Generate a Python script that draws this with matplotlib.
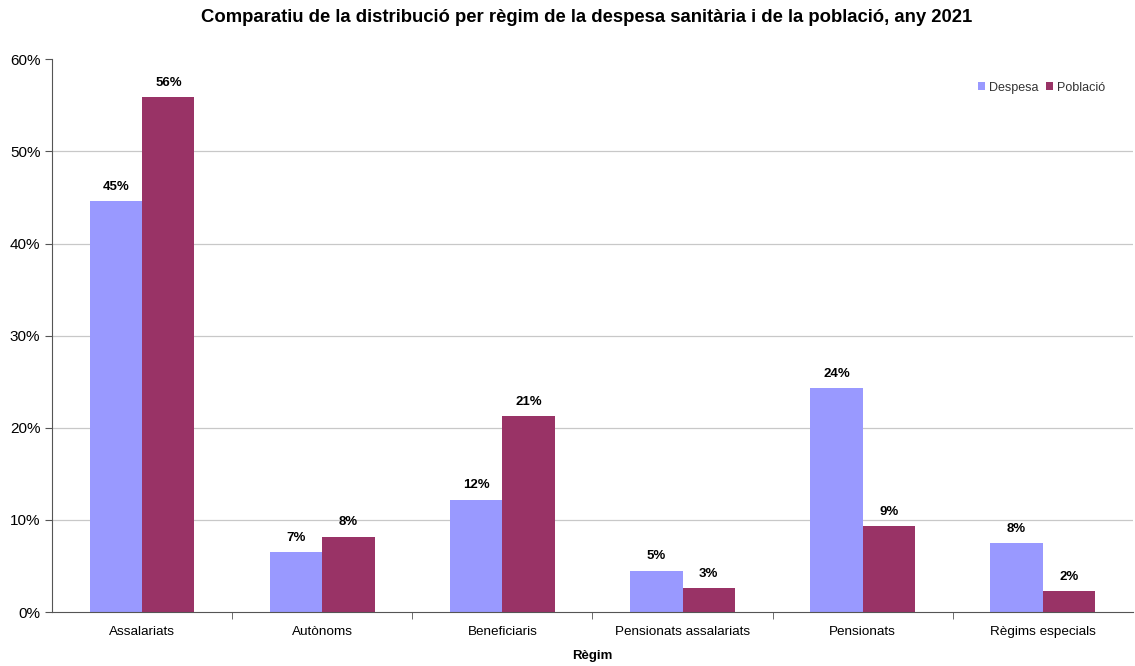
import matplotlib.pyplot as plt
import numpy as np

plt.rcParams['font.family'] = ['Liberation Sans', 'DejaVu Sans']

categories = ['Assalariats', 'Autònoms', 'Beneficiaris', 'Pensionats assalariats',
              'Pensionats', 'Règims especials']
despesa = [44.6, 6.5, 12.2, 4.5, 24.3, 7.5]
poblacio = [55.9, 8.2, 21.3, 2.6, 9.3, 2.3]
despesa_labels = ['45%', '7%', '12%', '5%', '24%', '8%']
poblacio_labels = ['56%', '8%', '21%', '3%', '9%', '2%']

fig = plt.figure(figsize=(11.35, 6.66), dpi=100)
ax = fig.add_axes([0.046, 0.081, 0.952, 0.83])

x = np.arange(len(categories))
w = 0.29
b1 = ax.bar(x - w/2, despesa, w, color='#9999FF', label='Despesa')
b2 = ax.bar(x + w/2, poblacio, w, color='#993366', label='Població')

for bars, labs in [(b1, despesa_labels), (b2, poblacio_labels)]:
    for b, t in zip(bars, labs):
        ax.text(b.get_x() + b.get_width()/2, b.get_height() + 0.9, t,
                ha='center', va='bottom', fontsize=9.5, fontweight='bold')

ax.set_xlim(-0.5, len(categories) - 0.5)
ax.set_ylim(0, 60)
ax.set_yticks(range(0, 61, 10))
ax.set_yticklabels([f'{v}%' for v in range(0, 61, 10)], fontsize=11)
for v in range(10, 60, 10):
    ax.axhline(v, color='#c8c8c8', linewidth=0.9, zorder=0)

ax.set_xticks(x)
ax.set_xticklabels(categories, fontsize=9.7)
ax.tick_params(axis='x', length=0, pad=10)
ax.set_xticks(np.arange(0.5, len(categories) - 0.5, 1), minor=True)
ax.tick_params(axis='x', which='minor', length=5, direction='out', color='#555555')
ax.tick_params(axis='y', length=5, color='#555555')

for s in ['top', 'right']:
    ax.spines[s].set_visible(False)
ax.spines['left'].set_color('#555555')
ax.spines['bottom'].set_color('#555555')

ax.set_xlabel('Règim', fontsize=9.5, fontweight='bold', labelpad=9)
fig.suptitle('Comparatiu de la distribució per règim de la despesa sanitària i de la població, any 2021',
             fontsize=13.3, fontweight='bold', x=0.517, y=0.986)

ax.legend(loc='upper right', bbox_to_anchor=(0.985, 0.98), frameon=False, fontsize=9,
          handlelength=0.6, handleheight=0.6, handletextpad=0.3, ncol=2, columnspacing=0.6,
          labelcolor='#333333')

fig.savefig('out.png', dpi=100)
